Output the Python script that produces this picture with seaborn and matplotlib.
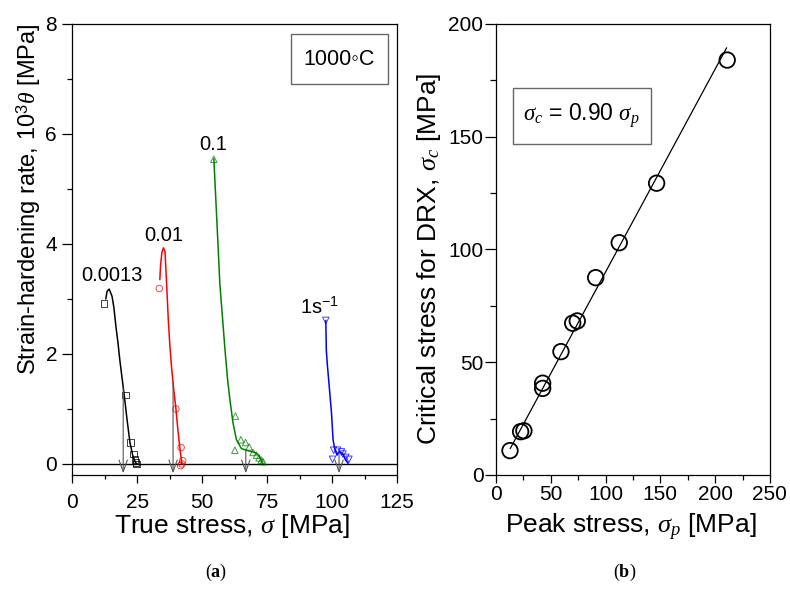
import matplotlib
matplotlib.use("Agg")
import matplotlib.pyplot as plt
from matplotlib.patches import Rectangle
from matplotlib.ticker import MultipleLocator
import numpy as np
import pandas as pd
import seaborn as sns

# ---- (a) strain-hardening rate vs true stress at 1000 C ----
rates = ["0.0013", "0.01", "0.1", "1"]
colors = ["black", "#ff0000", "#008000", "#0000ff"]
markers = ["s", "o", "^", "v"]

# fitted curves (stress, 10^3 theta)
curve_sigma = [
    [12.9, 13.4, 14.2, 15.3, 16.0, 16.8, 17.6, 18.3, 19.2, 20.0, 21.1, 22.2, 23.3, 24.2, 24.8],
    [33.7, 34.0, 34.5, 35.1, 35.7, 36.3, 36.9, 37.5, 38.2, 39.0, 39.9, 40.6, 41.2, 41.7, 42.2],
    [54.5, 56.2, 56.8, 57.8, 58.8, 59.8, 60.7, 61.9, 63.2, 65.1, 67.7, 70.3, 71.9, 73.2],
    [97.6, 97.8, 98.2, 98.7, 99.3, 99.8, 100.4, 101.0, 101.9, 102.5, 103.0, 104.2, 105.3, 106.2],
]
curve_theta = [
    [3.00, 3.14, 3.18, 3.05, 2.85, 2.50, 2.20, 1.89, 1.55, 1.25, 0.80, 0.39, 0.15, 0.04, 0.00],
    [3.35, 3.62, 3.85, 3.93, 3.86, 3.29, 2.68, 2.20, 1.77, 1.38, 1.00, 0.65, 0.38, 0.18, 0.00],
    [5.55, 3.89, 3.28, 2.68, 2.07, 1.53, 1.16, 0.74, 0.44, 0.28, 0.24, 0.21, 0.15, 0.01],
    [2.61, 2.07, 1.80, 1.53, 1.20, 0.92, 0.44, 0.28, 0.16, 0.20, 0.22, 0.18, 0.07, 0.01],
]

# measured points
point_sigma = [
    [12.2, 20.4, 22.4, 23.5, 24.2, 24.6, 24.8],
    [33.5, 39.9, 41.9, 42.5, 42.2, 41.7],
    [54.5, 62.8, 62.6, 64.9, 66.7, 68.1, 69.6, 70.9, 71.9, 72.8, 73.5],
    [97.6, 100.2, 100.6, 102.1, 103.6, 104.2, 105.3, 106.5],
]
point_theta = [
    [2.92, 1.25, 0.39, 0.18, 0.085, 0.03, 0.0],
    [3.19, 1.00, 0.30, 0.06, 0.0, -0.03],
    [5.54, 0.87, 0.25, 0.44, 0.39, 0.31, 0.21, 0.16, 0.11, 0.07, 0.04],
    [2.61, 0.085, 0.25, 0.25, 0.22, 0.18, 0.12, 0.085],
]

# critical stress (arrows) and where each arrow leaves its curve
critical_sigma = [19.6, 38.8, 66.8, 102.7]
critical_theta = [1.37, 1.50, 0.27, 0.20]

rate_labels = ["0.0013", "0.01", "0.1", "1s$^{-1}$"]
label_sigma = [15.2, 35.3, 54.2, 95.0]
label_theta = [3.42, 4.16, 5.80, 2.85]

# ---- (b) critical stress vs peak stress ----
peak_stress = [12.8, 22.5, 25.5, 42.6, 42.6, 59.3, 70.0, 74.2, 91.0, 112.5, 146.6, 211.0]
crit_stress = [10.8, 19.2, 19.6, 38.4, 40.7, 54.7, 67.3, 68.3, 87.5, 103.0, 129.4, 184.0]
fit_slope = 0.90
fit_range = [13.0, 210.5]

sns.set_theme(style="ticks")
plt.rcParams["font.family"] = ["Liberation Sans", "DejaVu Sans"]
plt.rcParams["mathtext.fontset"] = "custom"
plt.rcParams["mathtext.rm"] = "Liberation Sans"
plt.rcParams["mathtext.it"] = "Liberation Serif:italic"
plt.rcParams["mathtext.bf"] = "Liberation Serif:bold"
plt.rcParams["axes.linewidth"] = 0.9
for key in ("text.color", "axes.labelcolor", "xtick.color", "ytick.color",
            "axes.edgecolor"):
    plt.rcParams[key] = "black"

fig = plt.figure(figsize=(7.9, 6.01), dpi=100)
ax1 = fig.add_axes([0.0915, 0.2097, 0.411, 0.7504])
ax2 = fig.add_axes([0.6278, 0.2097, 0.3468, 0.7504])

# panel (a)
for i in range(len(rates)):
    cdf = pd.DataFrame({"sigma": curve_sigma[i], "theta": curve_theta[i]})
    sns.lineplot(data=cdf, x="sigma", y="theta", sort=False, estimator=None,
                 color=colors[i], lw=1.1, ax=ax1)
    pdf = pd.DataFrame({"sigma": point_sigma[i], "theta": point_theta[i]})
    sns.scatterplot(data=pdf, x="sigma", y="theta", marker=markers[i], s=22,
                    facecolor="none", edgecolor=colors[i], linewidth=0.7,
                    alpha=0.75, ax=ax1, zorder=3)
    ax1.text(label_sigma[i], label_theta[i], rate_labels[i], fontsize=14.5,
             ha="center", va="center")

ax1.axhline(0, color="black", lw=1.0, zorder=1)
for xs, ys in zip(critical_sigma, critical_theta):
    ax1.annotate("", xy=(xs, -0.17), xytext=(xs, ys),
                 arrowprops=dict(arrowstyle="->,head_length=0.7,head_width=0.25",
                                 color="#555555", lw=0.8, shrinkA=0, shrinkB=0))

ax1.add_patch(Rectangle((0.6726, 0.866), 0.3004, 0.111, transform=ax1.transAxes,
                        fill=False, edgecolor="#666666", lw=1.0))
ax1.text(0.823, 0.922, "1000\u25e6C", transform=ax1.transAxes, fontsize=15.5,
         ha="center", va="center", family=["Liberation Sans", "DejaVu Sans"])

ax1.set_xlim(0, 125)
ax1.set_ylim(-0.2, 8)
ax1.xaxis.set_major_locator(MultipleLocator(25))
ax1.xaxis.set_minor_locator(MultipleLocator(12.5))
ax1.yaxis.set_minor_locator(MultipleLocator(1))
ax1.set_yticks([0, 2, 4, 6, 8])
ax1.tick_params(axis="y", which="major", length=7, width=0.9, labelsize=15, pad=4)
ax1.tick_params(axis="y", which="minor", length=3.5, width=0.9)
ax1.tick_params(axis="x", which="major", length=6, width=0.9, labelsize=15, pad=7)
ax1.tick_params(axis="x", which="minor", length=3, width=0.9)
ax1.set_xlabel(r"True stress, $\sigma$ [MPa]", fontsize=19)
ax1.set_ylabel(r"Strain-hardening rate, $10^3\theta$ [MPa]", fontsize=17)
ax1.xaxis.set_label_coords(0.492, -0.082)
ax1.yaxis.set_label_coords(-0.09, 0.612)

# panel (b)
sns.scatterplot(x=peak_stress, y=crit_stress, marker="o", s=125,
                facecolor="none", edgecolor="black", linewidth=1.3, ax=ax2, zorder=3)
fit_x = np.array(fit_range)
sns.lineplot(x=fit_x, y=fit_slope * fit_x, color="black", lw=0.9, ax=ax2)

ax2.add_patch(Rectangle((0.061, 0.734), 0.504, 0.124, transform=ax2.transAxes,
                        fill=False, edgecolor="#666666", lw=1.0))
ax2.text(0.31, 0.796, r"$\sigma_c$ = 0.90 $\sigma_p$", transform=ax2.transAxes,
         fontsize=16.5, ha="center", va="center")

ax2.set_xlim(0, 250)
ax2.set_ylim(0, 200)
ax2.xaxis.set_major_locator(MultipleLocator(50))
ax2.xaxis.set_minor_locator(MultipleLocator(25))
ax2.yaxis.set_major_locator(MultipleLocator(50))
ax2.yaxis.set_minor_locator(MultipleLocator(25))
ax2.tick_params(axis="y", which="major", length=8, width=0.9, labelsize=15, pad=1)
ax2.tick_params(axis="y", which="minor", length=4.5, width=0.9)
ax2.tick_params(axis="x", which="major", length=6, width=0.9, labelsize=15, pad=1)
ax2.tick_params(axis="x", which="minor", length=3.5, width=0.9)
ax2.set_xlabel(r"Peak stress, $\sigma_p$ [MPa]", fontsize=19)
ax2.set_ylabel(r"Critical stress for DRX, $\sigma_c$ [MPa]", fontsize=19)
ax2.xaxis.set_label_coords(0.493, -0.082)
ax2.yaxis.set_label_coords(-0.193, 0.479)

for ax in (ax1, ax2):
    for side in ("top", "right"):
        ax.spines[side].set_visible(True)
    for s in ax.spines.values():
        s.set_linewidth(0.9)
        s.set_color("black")

fig.text(0.273, 0.047, r"($\mathbf{a}$)", fontsize=13, family="Liberation Serif",
         ha="center", va="center")
fig.text(0.791, 0.047, r"($\mathbf{b}$)", fontsize=13, family="Liberation Serif",
         ha="center", va="center")

fig.savefig("out.png", dpi=100)
